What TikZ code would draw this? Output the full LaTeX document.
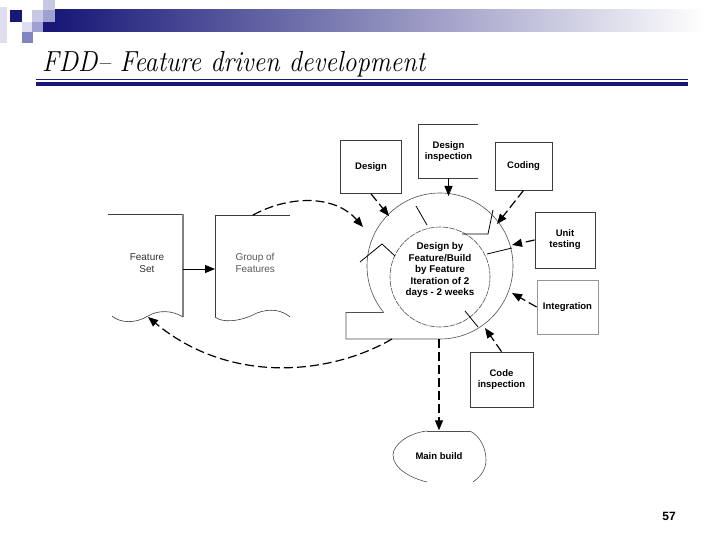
\documentclass[tikz,border=0pt]{standalone}
\usepackage{fontspec}
\setsansfont{Liberation Sans}
\usetikzlibrary{arrows.meta}
\definecolor{navy}{RGB}{24,24,120}
\definecolor{lavA}{RGB}{222,222,240}
\definecolor{lavB}{RGB}{200,200,228}
\definecolor{lavC}{RGB}{160,160,210}
\definecolor{lavD}{RGB}{132,132,192}
\definecolor{boxline}{RGB}{60,60,60}
\definecolor{ringline}{RGB}{80,80,80}
\tikzset{
  stagebox/.style={draw=boxline, line width=0.8pt, inner sep=0pt, align=center,
    font=\sffamily\bfseries\fontsize{9.5}{11}\selectfont},
  plainlabel/.style={font=\sffamily\fontsize{10}{12}\selectfont},
  dasharrow/.style={line width=1.2pt, dash pattern=on 9pt off 4pt, -{Triangle[length=10pt,width=8pt]}},
  fullarrow/.style={line width=1.2pt, -{Triangle[length=10pt,width=8pt]}},
  ringpart/.style={ringline, line width=0.6pt},
  markline/.style={black, line width=0.8pt}
}
\begin{document}
\begin{tikzpicture}[x=1pt,y=-1pt]
\useasboundingbox[fill=white] (0,0) rectangle (720,540);

\fill[lavA] (0,7) rectangle (7,43);
\fill[navy] (10,10) rectangle (22,22);
\fill[lavB] (32,10) rectangle (43,22);
\fill[lavB] (43,0) rectangle (55,10);
\fill[lavC] (43,10) rectangle (55,22);
\fill[lavA] (22,22) rectangle (32,32);
\fill[lavC] (32,22) rectangle (43,32);
\fill[lavD] (22,32) rectangle (33,43);
\fill[navy] (43,22) rectangle (55,32);
\shade[left color=navy, right color=white] (55,10) rectangle (705,32);

\node[anchor=base west, inner sep=0pt, xscale=0.9, font=\itshape\fontsize{29}{29}\selectfont] (title) at (42,72) {FDD– Feature driven development};
\draw[navy, line width=1.3pt] (36,79.5) -- (688,79.5);
\draw[navy, line width=4pt] (36,84) -- (688,84);

\draw[boxline, line width=0.6pt] (108,214) -- (183,214);
\draw[gray, line width=1.4pt] (183,214) -- (183,317);
\draw[boxline, line width=0.6pt] (112,316) .. controls (120,323) and (135,324) .. (148,316) .. controls (158,310) and (172,310) .. (183,317);
\node[plainlabel, text=black!80, align=center] (featset) at (147,263) {Feature\\Set};

\draw[boxline, line width=0.8pt] (290,215) -- (215,215) -- (215,317);
\draw[boxline, line width=0.6pt] (215,317) .. controls (222,323) and (240,322) .. (257,313) .. controls (270,308) and (282,310) .. (290,317);
\node[plainlabel, text=black!65, align=left, anchor=west] (groupfeat) at (232,263) {Group of\\Features};

\coordinate (setedge) at (183,269);
\coordinate (groupedge) at (215,269);
\draw[fullarrow, line width=1pt] (setedge) -- (groupedge);

\draw[ringpart] (383.7,312.5) -- (346,312.5) -- (346,339) -- (440,339) arc[start angle=90, end angle=-219.5, radius=73];
\draw[ringpart, dash pattern=on 6pt off 1pt] (440,277) circle[radius=50];

\draw[markline] (416,206) -- (427,225);
\draw[markline] (493,210) -- (488,234) -- (462,234);
\draw[markline] (487,254) -- (512,248);
\draw[markline] (465,311) -- (478,327);
\draw[markline] (360,262) -- (382,244) -- (395,256);

\node[font=\sffamily\bfseries\fontsize{9.8}{11.5}\selectfont, align=center] (ringtext) at (440,270) {Design by\\Feature/Build\\by Feature\\Iteration of 2\\days - 2 weeks};

\node[stagebox, minimum width=61pt, minimum height=53pt] (design) at (371,167) {Design};
\node[stagebox, draw=none, minimum width=59pt, minimum height=53pt] (desinsp) at (448.5,151.5) {Design\\inspection};
\draw[boxline, line width=0.8pt] (desinsp.north east) -- (desinsp.north west) -- (desinsp.south west) -- (desinsp.south east);
\node[stagebox, minimum width=57pt, minimum height=48pt] (coding) at (523.5,166) {Coding};
\node[stagebox, minimum width=60pt, minimum height=56pt] (unittest) at (565,240) {Unit\\testing};
\node[stagebox, draw=boxline!55, minimum width=61pt, minimum height=54pt] (integ) at (567.5,307) {Integration};
\node[stagebox, minimum width=63pt, minimum height=55pt] (codeinsp) at (501.5,379.5) {Code\\inspection};

\draw[ringpart] (427,431) -- (470,431);
\draw[ringpart] (427,431) .. controls (408,433) and (393,445) .. (393,455) .. controls (393,468) and (410,478) .. (427,482);
\draw[ringpart] (470,431) .. controls (480,436) and (486,448) .. (486,460) .. controls (486,470) and (480,477) .. (473,482);
\node[font=\sffamily\bfseries\fontsize{9.5}{11}\selectfont, minimum height=51pt, inner sep=0pt] (mainbuild) at (439,456) {Main build};

\coordinate (designtip) at (389,216);
\coordinate (desinsptip) at (448.5,196);
\coordinate (codingtip) at (497,224);
\coordinate (unittip) at (512,245);
\coordinate (integtip) at (512,293);
\coordinate (codeinsptip) at (485,328);
\coordinate (tabbottom) at (439,339);
\coordinate (tabcorner) at (392,339);
\coordinate (grouptop) at (253,215);
\coordinate (looptip) at (363,227);
\coordinate (setwave) at (148,317);

\draw[dasharrow] (design.south) -- (designtip);
\draw[fullarrow] (desinsp.south) -- (desinsptip);
\draw[dasharrow] (coding.south) -- (codingtip);
\draw[dasharrow] (unittest.west) -- (unittip);
\draw[dasharrow] (integ.west) -- (integtip);
\draw[dasharrow] (codeinsp.north) -- (codeinsptip);
\draw[dasharrow] (tabbottom) -- (mainbuild.north);
\draw[dasharrow] (grouptop) .. controls (290,195) and (335,195) .. (looptip);
\draw[dasharrow] (tabcorner) .. controls (330,375) and (230,385) .. (setwave);

\node[font=\sffamily\bfseries\fontsize{12}{12}\selectfont] (pagenum) at (669,516) {57};
\end{tikzpicture}
\end{document}
